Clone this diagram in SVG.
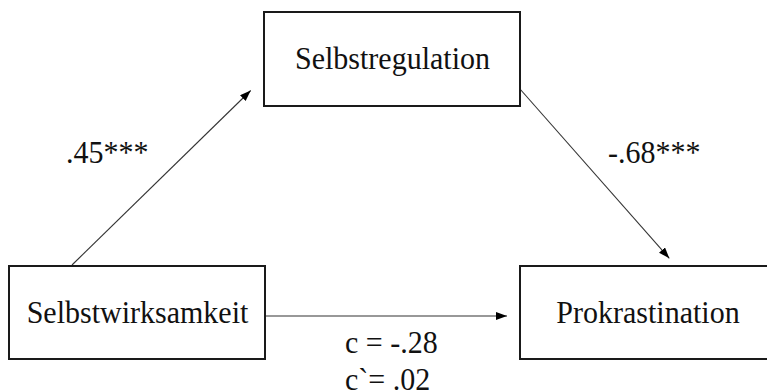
<svg xmlns="http://www.w3.org/2000/svg" width="767" height="391" viewBox="0 0 767 391">
<style>
.box{fill:#fff;stroke:#1a1a1a;stroke-width:2}
.lbl{font-family:"Liberation Serif","Times New Roman",serif;font-size:30px;fill:#111}
.edge{stroke:#333;stroke-width:1.1;fill:none;marker-end:url(#ah)}
</style>
<defs>
<marker id="ah" markerUnits="userSpaceOnUse" markerWidth="12" markerHeight="10" refX="11" refY="4" orient="auto">
<path d="M0,0 L11,4 L0,8 Z" fill="#000"/>
</marker>
</defs>
<rect width="767" height="391" fill="#fff"/>
<g id="connectors">
<line class="edge" x1="72" y1="265" x2="250.7" y2="90.5"/>
<line class="edge" x1="520" y1="89" x2="669.3" y2="258.3"/>
<line class="edge" x1="265" y1="316" x2="507" y2="316"/>
</g>
<g id="selbstregulation">
<rect class="box" x="264" y="12" width="256" height="94"/>
<text class="lbl" transform="translate(392.5,69) scale(1,1.08)" text-anchor="middle">Selbstregulation</text>
</g>
<g id="selbstwirksamkeit">
<rect class="box" x="9" y="266" width="256" height="93"/>
<text class="lbl" transform="translate(137.5,323) scale(1,1.08)" text-anchor="middle">Selbstwirksamkeit</text>
</g>
<g id="prokrastination">
<rect class="box" x="520" y="266" width="260" height="93"/>
<text class="lbl" transform="translate(648,323) scale(1,1.08)" text-anchor="middle">Prokrastination</text>
</g>
<g id="labels">
<text class="lbl" transform="translate(66,163) scale(1,1.08)">.45***</text>
<text class="lbl" transform="translate(608,163) scale(1,1.08)">-.68***</text>
<text class="lbl" transform="translate(345,353) scale(1,1.08)">c = -.28</text>
<text class="lbl" transform="translate(345,390) scale(1,1.08)">c`= .02</text>
</g>
</svg>
